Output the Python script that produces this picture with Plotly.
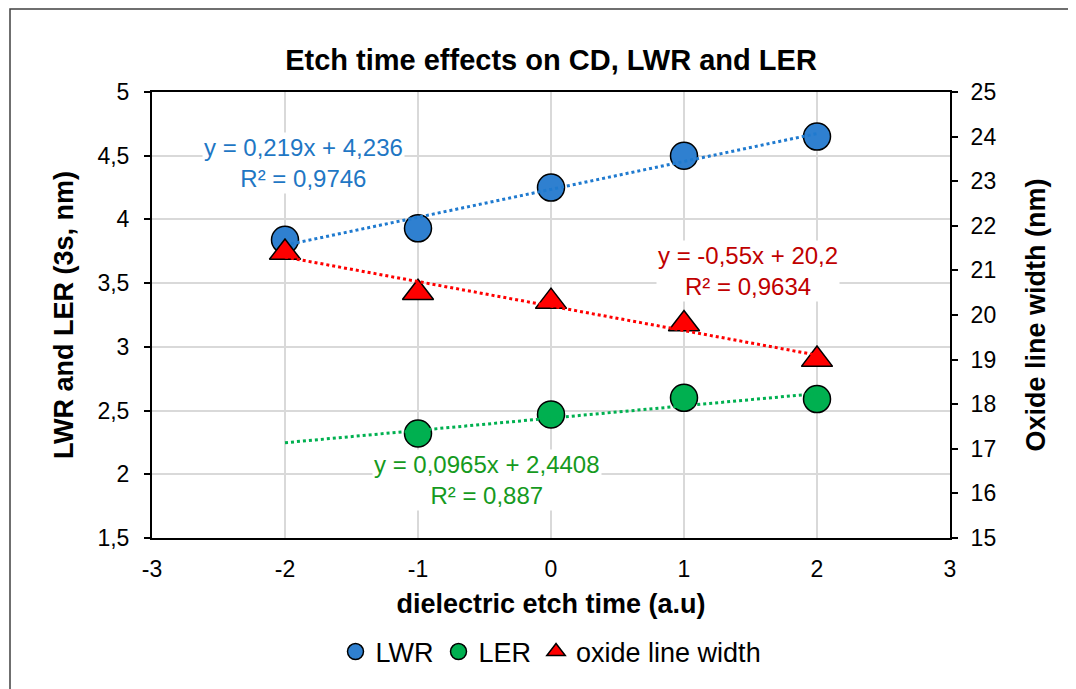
import plotly.graph_objects as go

# ---- data ----
x_vals = [-2, -1, 0, 1, 2]
lwr = [3.84, 3.93, 4.25, 4.50, 4.65]
ler_x = [-1, 0, 1, 2]
ler = [2.32, 2.47, 2.60, 2.59]
oxide = [21.4, 20.5, 20.3, 19.8, 19.0]

# trendline coefficients (slope, intercept) as printed on chart
lwr_fit = (0.219, 4.236)
ler_fit = (0.0965, 2.4408)
oxide_fit = (-0.55, 20.2)
fit_x = [-2, 2]

lwr_eq = ["y = 0,219x + 4,236", "R² = 0,9746"]
ler_eq = ["y = 0,0965x + 2,4408", "R² = 0,887"]
oxide_eq = ["y = -0,55x + 20,2", "R² = 0,9634"]

x_ticks = [-3, -2, -1, 0, 1, 2, 3]
x_ticktext = ["-3", "-2", "-1", "0", "1", "2", "3"]

BLUE = "#2F80D0"
GREEN = "#00B050"
RED = "#FF0000"
BLUE_T = "#1F77C4"
GREEN_T = "#159A1E"
RED_T = "#C00000"
FONT = "Liberation Sans, Arial, sans-serif"

# page offset (browser body margin)
OFF = 8
PL, PR, PT, PB = 152, 950, 92, 538  # plot area in page pixels
W, H = 1076 - OFF, 689 - OFF
PW, PH = PR - PL, PB - PT

fig = go.Figure()

def line_pts(fit):
    m, b = fit
    return [m * xx + b for xx in fit_x]

fig.add_trace(go.Scatter(x=x_vals, y=lwr, mode="markers", name="LWR",
                         marker=dict(symbol="circle", size=27, color=BLUE,
                                     line=dict(color="black", width=1.5))))
fig.add_trace(go.Scatter(x=ler_x, y=ler, mode="markers", name="LER",
                         marker=dict(symbol="circle", size=27, color=GREEN,
                                     line=dict(color="black", width=1.5))))
fig.add_trace(go.Scatter(x=fit_x, y=line_pts(lwr_fit), mode="lines", showlegend=False,
                         line=dict(color="#1F7ACF", width=3, dash="dot"), hoverinfo="skip"))
fig.add_trace(go.Scatter(x=fit_x, y=line_pts(ler_fit), mode="lines", showlegend=False,
                         line=dict(color=GREEN, width=3, dash="dot"), hoverinfo="skip"))
fig.add_trace(go.Scatter(x=x_vals, y=oxide, mode="markers", name="oxide line width", yaxis="y2",
                         marker=dict(symbol="triangle-up", size=27, color=RED,
                                     line=dict(color="black", width=1.5))))
fig.add_trace(go.Scatter(x=fit_x, y=line_pts(oxide_fit), mode="lines", showlegend=False, yaxis="y2",
                         line=dict(color=RED, width=3, dash="dot"), hoverinfo="skip"))

ann_font = 24
fig.add_annotation(x=-1.86, y=4.44, xref="x", yref="y", text="<br>".join(lwr_eq),
                   showarrow=False, font=dict(size=ann_font, color=BLUE_T, family=FONT),
                   bgcolor="white", align="center")
fig.add_annotation(x=1.48, y=3.595, xref="x", yref="y", text="<br>".join(oxide_eq),
                   showarrow=False, font=dict(size=ann_font, color=RED_T, family=FONT),
                   bgcolor="white", align="center")
fig.add_annotation(x=-0.48, y=1.955, xref="x", yref="y", text="<br>".join(ler_eq),
                   showarrow=False, font=dict(size=ann_font, color=GREEN_T, family=FONT),
                   bgcolor="white", align="center")

# outer chart border (left and top edges visible)
fig.add_shape(type="rect", xref="paper", yref="paper",
              x0=(10 - PL) / PW, x1=(1090 - PL) / PW,
              y0=(PB - 700) / PH, y1=(PB - 9) / PH,
              line=dict(color="#404040", width=1.5), layer="below")

fig.update_layout(
    width=W, height=H,
    margin=dict(l=PL - OFF, r=W - (PR - OFF), t=PT - OFF, b=H - (PB - OFF)),
    paper_bgcolor="white", plot_bgcolor="white",
    separators=", ",
    font=dict(family=FONT, color="black"),
    title=dict(text="<b>Etch time effects on CD, LWR and LER</b>", xref="paper", x=0.5,
               xanchor="center", y=1 - (60 - OFF) / H, yanchor="middle",
               font=dict(size=29, color="black")),
    xaxis=dict(range=[-3, 3], tickvals=x_ticks, ticktext=x_ticktext, showgrid=True,
               gridcolor="#D9D9D9", gridwidth=1.5,
               showline=True, linecolor="black", linewidth=2, mirror=True, ticks="",
               tickfont=dict(size=23), ticklabelstandoff=9, zeroline=False,
               title=dict(text="<b>dielectric etch time (a.u)</b>", font=dict(size=27), standoff=14)),
    yaxis=dict(range=[1.5, 5], dtick=0.5, showgrid=True, gridcolor="#D9D9D9", gridwidth=1.5,
               showline=True, linecolor="black", linewidth=2, ticks="outside", ticklen=6,
               tickcolor="black", tickwidth=2, tickfont=dict(size=23), ticklabelstandoff=10,
               zeroline=False,
               title=dict(text="<b>LWR and LER (3s, nm)</b>", font=dict(size=27), standoff=16)),
    yaxis2=dict(range=[15, 25], dtick=1, overlaying="y", side="right", showgrid=False,
                showline=True, linecolor="black", linewidth=2, ticks="outside", ticklen=6,
                tickcolor="black", tickwidth=2, tickfont=dict(size=23), ticklabelstandoff=8,
                zeroline=False,
                title=dict(text="<b>Oxide line width (nm)</b>", font=dict(size=27), standoff=31)),
    legend=dict(orientation="h", x=0.5, xanchor="center", y=-(652 - PB) / PH, yanchor="middle",
                font=dict(size=27), itemwidth=30, tracegroupgap=0, bgcolor="rgba(0,0,0,0)"),
    showlegend=True,
)

fig.write_html("out.html")
